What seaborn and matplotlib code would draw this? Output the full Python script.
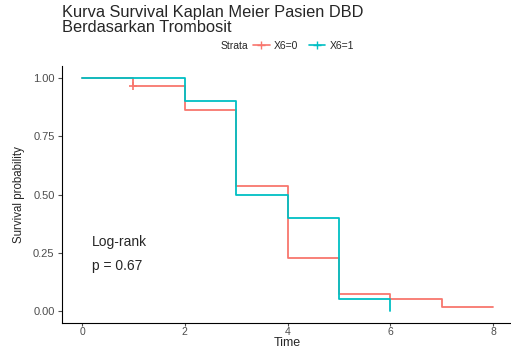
import matplotlib

matplotlib.use("Agg")
import matplotlib.pyplot as plt
import pandas as pd
import seaborn as sns
from matplotlib.lines import Line2D

# Kaplan-Meier step values
time_x0 = [0, 1, 2, 3, 4, 5, 6, 7, 8]
surv_x0 = [1.0, 0.966, 0.863, 0.537, 0.227, 0.073, 0.050, 0.016, 0.016]
time_x1 = [0, 2, 3, 4, 5, 6]
surv_x1 = [1.0, 0.90, 0.50, 0.40, 0.05, 0.0]
censor_time_x0 = [1]
censor_surv_x0 = [0.966]

strata = ["X6=0", "X6=1"]
colors = {"X6=0": "#F8766D", "X6=1": "#00BFC4"}
x_ticks = [0, 2, 4, 6, 8]
y_ticks = [0.0, 0.25, 0.50, 0.75, 1.00]
title_lines = ["Kurva Survival Kaplan Meier Pasien DBD", "Berdasarkan Trombosit"]

df = pd.concat(
    [
        pd.DataFrame({"time": time_x0, "surv": surv_x0, "strata": strata[0]}),
        pd.DataFrame({"time": time_x1, "surv": surv_x1, "strata": strata[1]}),
    ],
    ignore_index=True,
)
censor = pd.DataFrame({"time": censor_time_x0, "surv": censor_surv_x0, "strata": strata[0]})

sns.set_theme(style="ticks")
plt.rcParams["font.family"] = ["Liberation Sans", "DejaVu Sans"]

fig = plt.figure(figsize=(5.11, 3.49), dpi=100)
ax = fig.add_axes([0.1204, 0.0756, 0.885, 0.734])

sns.lineplot(
    data=df, x="time", y="surv", hue="strata", palette=colors,
    drawstyle="steps-post", linewidth=1.3, legend=False, ax=ax, estimator=None,
)
sns.scatterplot(
    data=censor, x="time", y="surv", hue="strata", palette=colors,
    marker="+", s=40, linewidth=1.2, legend=False, ax=ax,
)

ax.set_xlim(-0.4, 8.4)
ax.set_ylim(-0.05, 1.05)
ax.set_xticks(x_ticks)
ax.set_yticks(y_ticks)
ax.set_yticklabels([f"{v:.2f}" for v in y_ticks])
ax.tick_params(labelsize=8, colors="#4d4d4d", length=3, width=0.8, pad=2)
ax.tick_params(axis="x", labelsize=7.5, length=2.5, pad=1)
for side in ["top", "right"]:
    ax.spines[side].set_visible(False)
for side in ["left", "bottom"]:
    ax.spines[side].set_color("black")
    ax.spines[side].set_linewidth(0.8)

ax.set_xlabel("Time", fontsize=9)
ax.xaxis.set_label_coords(287.7 / 511, 1 - 336.5 / 349, transform=fig.transFigure)
ax.set_ylabel("Survival probability", fontsize=8.3, labelpad=6)

ax.text(0.2, 0.295, "Log-rank", fontsize=10, va="center")
ax.text(0.2, 0.195, "p = 0.67", fontsize=10, va="center")

# two-line title, left aligned with the y axis
fig.text(62 / 511, 1 - 13 / 349, title_lines[0], fontsize=11.8, va="center", ha="left")
fig.text(62 / 511, 1 - 27.5 / 349, title_lines[1], fontsize=11.8, va="center", ha="left")

fig.text(221 / 511, 1 - 46 / 349, "Strata", fontsize=7.5, va="center", ha="left")
handles = [
    Line2D([], [], color=colors[s], marker="+", markersize=6, linewidth=1.2) for s in strata
]
fig.legend(
    handles, strata, loc="center left", bbox_to_anchor=(253 / 511, 1 - 46 / 349),
    ncol=2, frameon=False, fontsize=7.5, handlelength=1.6, handletextpad=0.4,
    columnspacing=1.0, borderaxespad=0, borderpad=0,
)

fig.savefig("out.png", dpi=100)
